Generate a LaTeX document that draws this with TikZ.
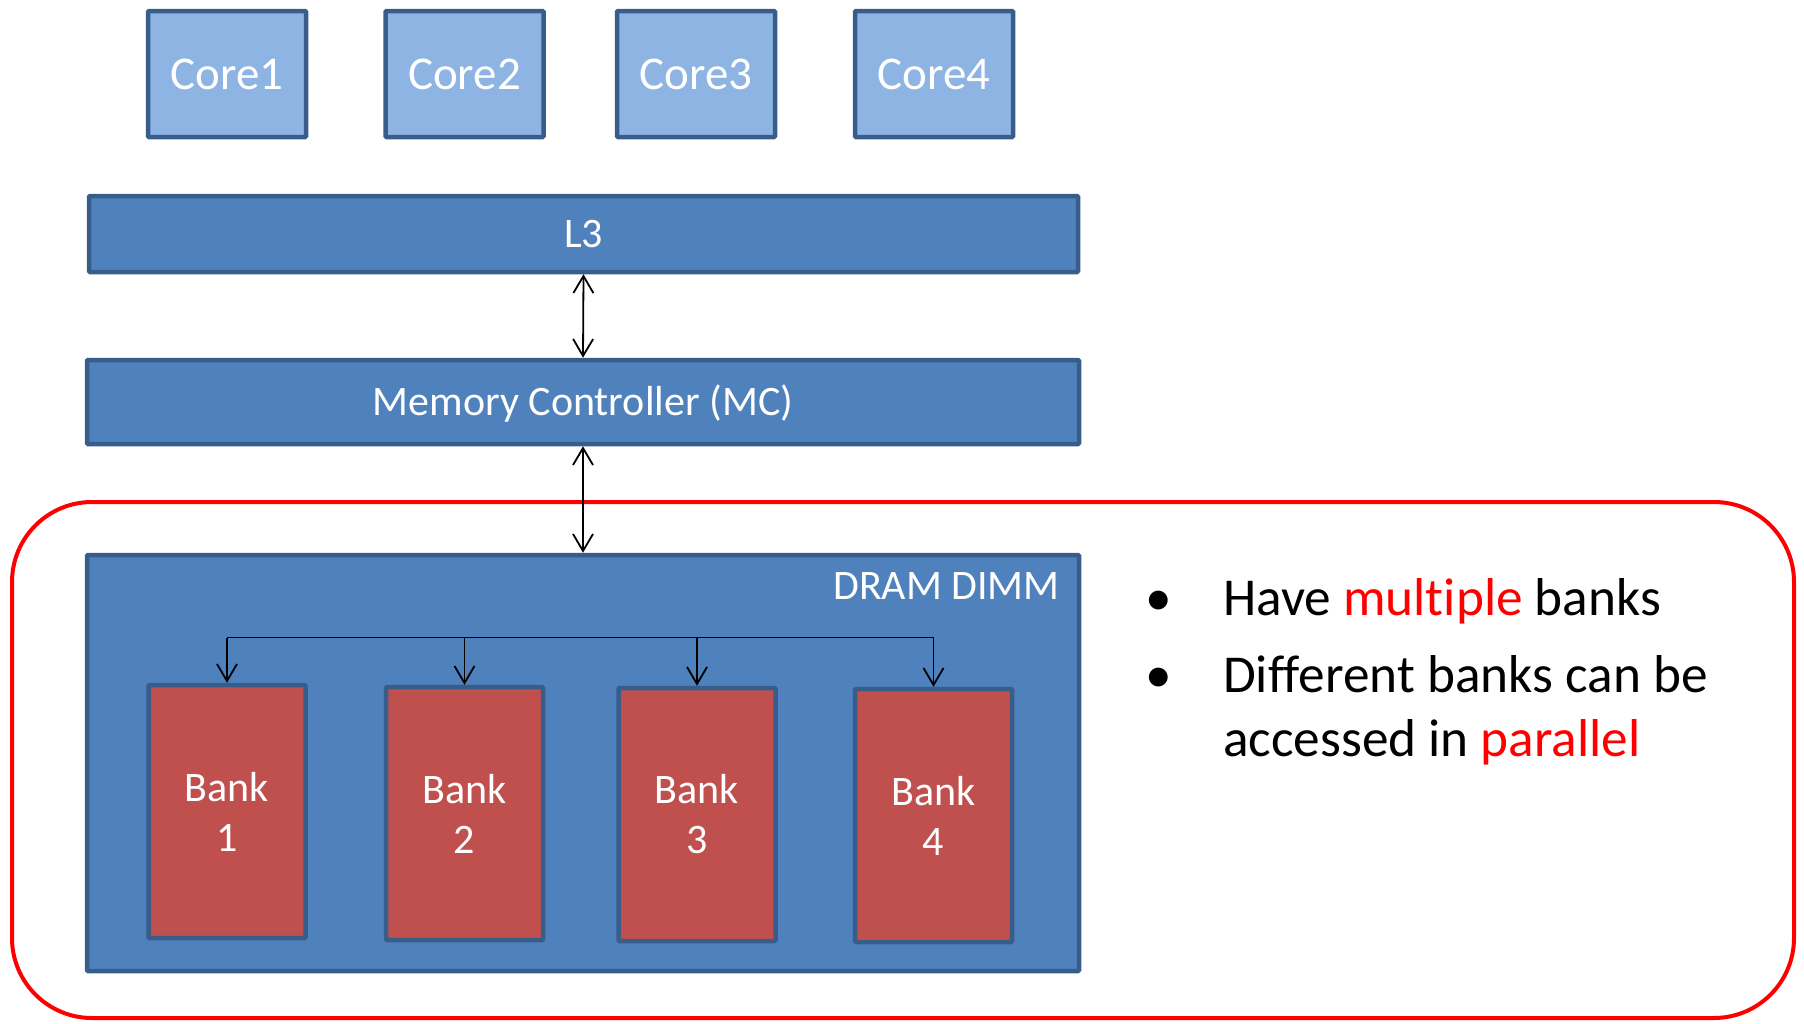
\documentclass[tikz,border=0pt]{standalone}
\usepackage{fontspec}
\setmainfont{Carlito}[RawFeature={-liga;-clig;-dlig;-calt}]
\usetikzlibrary{arrows.meta}

\definecolor{corefill}{HTML}{8EB4E3}
\definecolor{unitfill}{HTML}{4F81BD}
\definecolor{unitedge}{HTML}{385D8A}
\definecolor{bankfill}{HTML}{C0504D}
\definecolor{hot}{HTML}{FF0000}

\begin{document}
\begin{tikzpicture}[x=1pt,y=-1pt,
  box/.style={draw=unitedge, line width=4.5pt, inner sep=0pt, text=white, rounded corners=1pt},
  core/.style={box, fill=corefill, minimum width=158pt, minimum height=126pt,
    font=\fontsize{47}{56}\selectfont, text height=30pt, text depth=0pt},
  unit/.style={box, fill=unitfill, minimum width=992pt,
    font=\fontsize{42}{50}\selectfont, text height=27pt, text depth=0pt},
  bank/.style={box, fill=bankfill, minimum width=157pt, minimum height=253pt,
    font=\fontsize{42}{50}\selectfont, align=center},
  link/.style={line width=1.8pt, black},
  barb/.tip={Straight Barb[length=17pt,width=20pt]},
  both/.style={link, barb-barb},
  down/.style={link, -barb},
  point/.style={font=\fontsize{53.3}{64}\selectfont, inner sep=0pt, anchor=base west},
  dot/.style={font=\fontsize{53.3}{64}\selectfont, inner sep=0pt, anchor=base},
]
\useasboundingbox (0,0) rectangle (1804,1023);

% group outline around the DIMM and the notes
\node[draw=hot, line width=4pt, rounded corners=80pt, minimum width=1782pt,
      minimum height=516pt, inner sep=0pt] (group) at (903,760) {};

% cores
\node[core] (c1) at (227,74) {Core1};
\node[core] (c2) at (464.5,74) {Core2};
\node[core] (c3) at (696,74) {Core3};
\node[core] (c4) at (934,74) {Core4};

% shared cache and memory controller
\node[unit, minimum width=989pt, minimum height=76pt] (l3) at (583.5,234) {L3};
\node[unit, minimum height=84pt] (mc) at (583,402) {Memory Controller (MC)};

% DIMM with its banks
\node[unit, minimum height=416pt] (dimm) at (583,763) {};
\node[anchor=east, inner sep=0pt, text=white, font=\fontsize{42}{50}\selectfont,
      text height=27pt, text depth=0pt] (dimmlabel) at (1060,586) {DRAM DIMM};

\node[bank] (b1) at (227,811.5) {Bank\\1};
\node[bank] (b2) at (464.5,813.5) {Bank\\2};
\node[bank] (b3) at (697,814.5) {Bank\\3};
\node[bank] (b4) at (933.5,815.5) {Bank\\4};

% links
\draw[both] (l3.south) -- (mc.north);
\draw[both] (mc.south) -- (dimm.north);

\coordinate (bus) at (0,637.5);
\draw[link] (b1.north |- bus) -- (b4.north |- bus);
\foreach \b in {b1,b2,b3,b4}
  \draw[down] (\b.north |- bus) -- (\b.north);

% notes
\node[dot] (d1) at (1159,615) {•};
\node[point] (n1) at (1223,615) {Have \textcolor{hot}{multiple} banks};
\node[dot] (d2) at (1159,692) {•};
\node[point] (n2) at (1223,692) {Different banks can be};
\node[point] (n3) at (1223,756) {accessed in \textcolor{hot}{parallel}};
\end{tikzpicture}
\end{document}
